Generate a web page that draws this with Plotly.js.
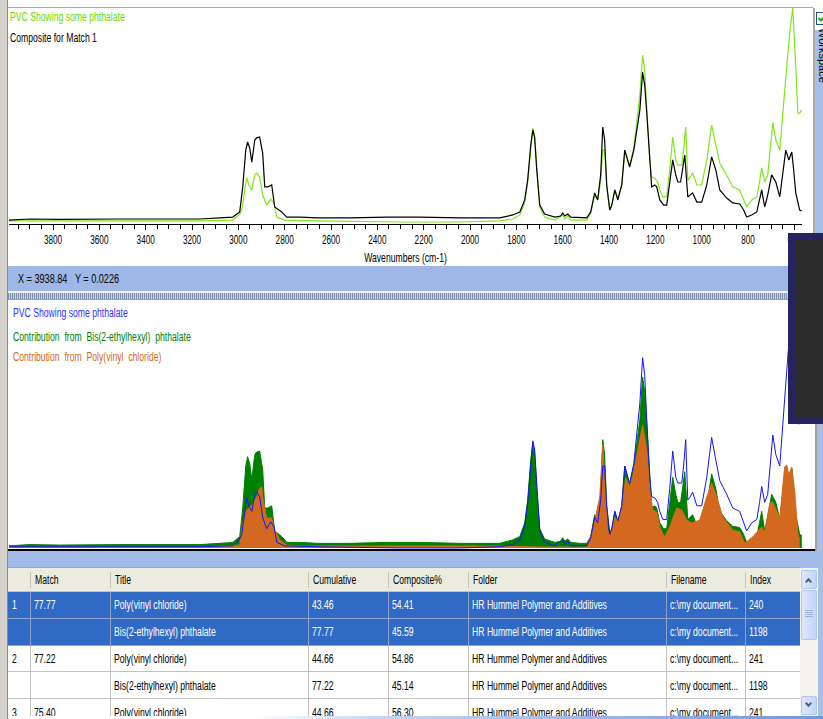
<!DOCTYPE html>
<html>
<head>
<meta charset="utf-8">
<script src="https://cdn.plot.ly/plotly-3.0.1.min.js"></script>
<style>
html,body{margin:0;padding:0;}
body{width:823px;height:719px;overflow:hidden;position:relative;background:#fff;font-family:"Liberation Sans",Arial,sans-serif;}
.b{position:absolute;}
.t{position:absolute;white-space:pre;font-size:12px;line-height:14px;height:14px;transform-origin:0 0;transform:scaleX(0.72);z-index:5;}
#top,#bot{position:absolute;left:0;z-index:2;}
#top{top:0;width:823px;height:265px;}
#bot{top:300px;width:823px;height:252px;}
#tbl{position:absolute;left:0;top:0;width:823px;height:719px;z-index:3;pointer-events:none;}
</style>
</head>
<body>
<!-- window frame -->
<div class="b" style="left:0;top:0;width:7px;height:719px;background:#d6d3ce;"></div>
<div class="b" style="left:7px;top:0;width:1px;height:719px;background:#8a8a8a;"></div>
<div class="b" style="left:8px;top:7px;width:805px;height:1px;background:#a8a8a8;"></div>
<div class="b" style="left:813px;top:8px;width:2px;height:258px;background:#a8a8a8;"></div>
<div class="b" style="left:815px;top:30px;width:8px;height:236px;background:#a7bee9;"></div>
<div class="b" style="left:816px;top:12px;width:11px;height:11px;border:1px solid #1c5180;background:#fff;"></div>
<svg class="b" style="left:817px;top:13px;z-index:4" width="10" height="10"><path d="M1.5 5 L4 7.5 L8.5 2" stroke="#21a121" stroke-width="2" fill="none"/></svg>
<div class="b" style="left:829px;top:28px;font-size:11px;line-height:12px;white-space:pre;transform-origin:0 0;transform:rotate(90deg);z-index:4;">Workspace</div>
<!-- status bar -->
<div class="b" style="left:8px;top:266px;width:815px;height:25px;background:#9fb7e7;"></div>
<div class="b" style="left:8px;top:291px;width:815px;height:2px;background:#eef1f8;"></div>
<div class="b" style="left:8px;top:293px;width:815px;height:6px;background:repeating-linear-gradient(90deg,#7f8fae 0 1px,#c9d2e4 1px 2px);"></div>
<!-- bottom panel frame -->
<div class="b" style="left:8px;top:299px;width:807px;height:1px;background:#a0a0a0;"></div>
<div class="b" style="left:815px;top:299px;width:2px;height:252px;background:#a0a0a0;"></div>
<div class="b" style="left:817px;top:299px;width:6px;height:252px;background:#a7bee9;"></div>
<div class="b" style="left:8px;top:549px;width:807px;height:2px;background:#000;z-index:4;"></div>
<div class="b" style="left:8px;top:551px;width:815px;height:17px;background:#a3bbe8;"></div>
<!-- charts -->
<div id="top"></div>
<div id="bot"></div>
<div id="tbl"></div>
<!-- labels -->
<div class="t" style="left:10px;top:10px;color:#66dd00;">PVC Showing some phthalate</div>
<div class="t" style="left:10px;top:31px;color:#000;">Composite for Match 1</div>
<div class="t" style="left:18px;top:272px;color:#000;transform:scaleX(0.76);">X = 3938.84   Y = 0.0226</div>
<div class="t" style="left:13px;top:306px;color:#3030ff;">PVC Showing some phthalate</div>
<div class="t" style="left:13px;top:330px;color:#008000;">Contribution  from  Bis(2-ethylhexyl)  phthalate</div>
<div class="t" style="left:13px;top:350px;color:#d2691e;">Contribution  from  Poly(vinyl  chloride)</div>
<!-- overlay box -->
<div class="b" style="left:788px;top:233px;width:35px;height:191px;box-sizing:border-box;border-left:7px solid #26245e;border-top:7px solid #26245e;border-bottom:7px solid #26245e;background:#2b2b2b;z-index:9;"></div>

<script>
// ---------- spectra (wavenumber cm-1, absorbance units) ----------
const wnComposite = [3990,3901,3771,3642,3512,3383,3253,3167,3080,3024,
  2994,2981,2968,2960,2951,2942,2929,2921,2908,2895,
  2886,2873,2856,2843,2813,2791,2735,2657,2519,2360,
  2217,2044,1872,1816,1785,1764,1751,1738,1729,1721,
  1712,1699,1678,1634,1609,1600,1591,1578,1565,1527,
  1496,1479,1462,1449,1436,1427,1419,1410,1397,1388,
  1375,1362,1345,1332,1319,1311,1293,1280,1267,1255,
  1246,1237,1224,1216,1203,1194,1181,1164,1151,1138,
  1125,1112,1103,1091,1082,1073,1060,1052,1039,1021,
  1000,978,957,939,922,892,866,836,819,806,
  784,762,750,741,728,715,698,680,663,650,
  637,624,611,603,594,577,568];
const absComposite = [0.009,0.014,0.012,0.014,0.014,0.014,0.014,0.014,0.019,0.023,
  0.047,0.164,0.336,0.374,0.346,0.280,0.383,0.393,0.397,0.322,
  0.164,0.164,0.173,0.070,0.047,0.023,0.023,0.019,0.019,0.023,
  0.023,0.019,0.019,0.033,0.047,0.103,0.196,0.360,0.430,0.393,
  0.243,0.079,0.037,0.023,0.028,0.042,0.028,0.037,0.023,0.019,
  0.019,0.047,0.136,0.103,0.220,0.444,0.383,0.173,0.056,0.079,
  0.150,0.103,0.173,0.336,0.290,0.257,0.336,0.439,0.523,0.701,
  0.640,0.509,0.266,0.164,0.173,0.164,0.103,0.079,0.079,0.173,
  0.290,0.220,0.187,0.187,0.243,0.313,0.117,0.126,0.136,0.093,
  0.093,0.173,0.304,0.243,0.150,0.112,0.089,0.084,0.056,0.023,
  0.033,0.047,0.103,0.150,0.070,0.126,0.220,0.187,0.117,0.220,
  0.336,0.290,0.327,0.243,0.136,0.056,0.051];

const wnSample = [3990,3814,3598,3383,3167,3024,2994,2985,2972,2964,
  2955,2942,2929,2921,2908,2895,2878,2860,2847,2834,
  2800,2662,2303,2044,1872,1816,1785,1764,1751,1738,
  1729,1721,1712,1699,1678,1634,1600,1591,1578,1565,
  1496,1479,1462,1449,1436,1427,1419,1410,1397,1388,
  1375,1362,1345,1332,1319,1311,1293,1280,1267,1255,
  1246,1237,1224,1216,1203,1190,1181,1168,1151,1138,
  1125,1112,1103,1086,1078,1069,1060,1052,1039,1021,
  1000,978,957,939,922,892,866,836,819,806,
  784,762,750,741,728,715,693,680,663,650,
  633,620,607,594,585,577,568];
const absSample = [0.005,0.005,0.002,0.005,0.005,0.009,0.037,0.056,0.150,0.206,
  0.173,0.150,0.220,0.229,0.210,0.126,0.079,0.107,0.089,0.023,
  0.009,0.005,0.000,0.000,0.005,0.014,0.033,0.089,0.187,0.355,
  0.439,0.402,0.243,0.070,0.023,0.009,0.033,0.014,0.028,0.009,
  0.009,0.042,0.126,0.103,0.196,0.336,0.336,0.173,0.056,0.079,
  0.150,0.112,0.173,0.336,0.290,0.266,0.346,0.477,0.593,0.780,
  0.710,0.523,0.290,0.210,0.206,0.187,0.150,0.117,0.117,0.243,
  0.397,0.290,0.266,0.266,0.336,0.444,0.196,0.206,0.229,0.173,
  0.173,0.290,0.453,0.360,0.276,0.220,0.164,0.150,0.103,0.070,
  0.103,0.117,0.187,0.252,0.187,0.220,0.463,0.383,0.336,0.523,
  0.724,0.883,1.000,0.724,0.509,0.509,0.523];

const wnPVC = [3990,3167,2994,2981,2964,2942,2921,2908,2899,2895,
  2878,2856,2843,2821,2791,2735,1872,1699,1496,1470,
  1440,1432,1427,1414,1406,1388,1375,1362,1345,1328,
  1311,1298,1276,1255,1237,1224,1211,1194,1181,1160,
  1138,1108,1086,1065,1043,1008,978,957,935,909,
  866,836,814,780,741,728,706,693,663,642,
  633,624,611,598,585,577];
const absPVC = [0.004,0.004,0.012,0.102,0.156,0.176,0.209,0.246,0.250,0.209,
  0.123,0.123,0.074,0.033,0.012,0.008,0.008,0.004,0.004,0.074,
  0.209,0.361,0.422,0.197,0.066,0.074,0.127,0.107,0.156,0.287,
  0.250,0.291,0.402,0.504,0.402,0.238,0.156,0.148,0.086,0.045,
  0.086,0.164,0.156,0.115,0.102,0.115,0.209,0.266,0.209,0.127,
  0.074,0.066,0.020,0.045,0.086,0.066,0.184,0.189,0.120,0.332,
  0.340,0.299,0.332,0.225,0.061,0.033];

// ---------- match table ----------
const colNames = ["", "Match", "Title", "Cumulative", "Composite%", "Folder", "Filename", "Index"];
const rowNum = ["1", "", "2", "", "3"];
const matchScore = ["77.77", "", "77.22", "", "75.40"];
const titles = ["Poly(vinyl chloride)", "Bis(2-ethylhexyl) phthalate", "Poly(vinyl chloride)", "Bis(2-ethylhexyl) phthalate", "Poly(vinyl chloride)"];
const cumulative = ["43.46", "77.77", "44.66", "77.22", "44.66"];
const compositePct = ["54.41", "45.59", "54.86", "45.14", "56.30"];
const folders = ["HR Hummel Polymer and Additives", "HR Hummel Polymer and Additives", "HR Hummel Polymer and Additives", "HR Hummel Polymer and Additives", "HR Hummel Polymer and Additives"];
const filenames = ["c:\\my document...", "c:\\my document...", "c:\\my document...", "c:\\my document...", "c:\\my document..."];
const indexes = ["240", "1198", "241", "1198", "241"];
const selectedRows = [0, 1];

const FONT = 'Liberation Sans, Arial, sans-serif';
const xr = [3990, 567];

const topTraces = [
  {x: wnSample, y: absSample, type: 'scatter', mode: 'lines', line: {color: '#7ee81a', width: 1.2}, hoverinfo: 'skip'},
  {x: wnComposite, y: absComposite, type: 'scatter', mode: 'lines', line: {color: '#000000', width: 1.2}, hoverinfo: 'skip'}
];
const topLayout = {
  width: 823, height: 265, margin: {l: 9, r: 21, t: 8, b: 41},
  paper_bgcolor: 'rgba(0,0,0,0)', plot_bgcolor: 'rgba(0,0,0,0)', showlegend: false,
  xaxis: {range: xr, autorange: false, automargin: false, showline: true, linecolor: '#000', linewidth: 1,
    ticks: 'outside', ticklen: 5, tickwidth: 1, tickcolor: '#000', tick0: 0, dtick: 200,
    showgrid: false, zeroline: false, tickfont: {family: FONT, size: 12, color: '#000'},
    minor: {tick0: 0, dtick: 50, ticks: 'outside', ticklen: 4, tickcolor: '#000', tickwidth: 1, showgrid: false},
    title: {text: 'Wavenumbers (cm-1)', font: {family: FONT, size: 12, color: '#000'}, standoff: 7}},
  yaxis: {range: [-0.00935, 1.0], autorange: false, visible: false}
};

const botTraces = [
  {x: wnComposite, y: absComposite, type: 'scatter', mode: 'lines', fill: 'tozeroy', fillcolor: '#008000', line: {color: '#008000', width: 1}, hoverinfo: 'skip'},
  {x: wnPVC, y: absPVC, type: 'scatter', mode: 'lines', fill: 'tozeroy', fillcolor: '#d2691e', line: {color: '#d2691e', width: 1}, hoverinfo: 'skip'},
  {x: wnSample, y: absSample, type: 'scatter', mode: 'lines', line: {color: '#1414f5', width: 1}, hoverinfo: 'skip'}
];
const botLayout = {
  width: 823, height: 252, margin: {l: 9, r: 21, t: 2, b: 2},
  paper_bgcolor: 'rgba(0,0,0,0)', plot_bgcolor: 'rgba(0,0,0,0)', showlegend: false,
  xaxis: {range: xr, autorange: false, visible: false},
  yaxis: {range: [-0.0082, 1.008], autorange: false, visible: false}
};

function squash(gd, sel, f) {
  gd.querySelectorAll(sel).forEach(function (t) {
    const w = t.getComputedTextLength();
    if (w > 0) { t.setAttribute('textLength', (w * f).toFixed(1)); t.setAttribute('lengthAdjust', 'spacingAndGlyphs'); }
  });
}

Plotly.newPlot('top', topTraces, topLayout, {staticPlot: true, displayModeBar: false}).then(function (gd) {
  squash(gd, '.xtick text', 0.68);
  squash(gd, 'text.xtitle', 0.72);
});
Plotly.newPlot('bot', botTraces, botLayout, {staticPlot: true, displayModeBar: false});

// ---------- table drawing ----------
(function () {
  const host = document.getElementById('tbl');
  const edges = [8, 30, 110, 308, 388, 468, 666, 745, 800];
  const headTop = 568, headH = 24, rowH = 26.8, clipBottom = 716;
  function box(l, t, w, h, css) {
    const d = document.createElement('div');
    d.style.cssText = 'position:absolute;left:' + l + 'px;top:' + t + 'px;width:' + w + 'px;height:' + h + 'px;' + (css || '');
    host.appendChild(d); return d;
  }
  function txt(s, l, cy, color, f) {
    const d = document.createElement('div');
    d.className = 't';
    d.textContent = s;
    d.style.left = l + 'px'; d.style.top = (cy - 7) + 'px'; d.style.color = color;
    if (f) d.style.transform = 'scaleX(' + f + ')';
    clip.appendChild(d);
  }
  box(8, headTop - 1, 792, 1, 'background:#a5a5a5;');
  box(8, headTop, 792, headH, 'background:#ecebdf;');
  box(8, headTop + headH - 1, 792, 1, 'background:#c9c6b6;');
  const clip = box(0, 0, 823, clipBottom, 'overflow:hidden;');
  const cols = [rowNum, matchScore, titles, cumulative, compositePct, folders, filenames, indexes];
  for (let c = 1; c < edges.length - 1; c++) box(edges[c], headTop + 4, 1, headH - 8, 'background:#c7c4b4;');
  for (let c = 0; c < colNames.length; c++) if (colNames[c]) txt(colNames[c], edges[c] + 5, headTop + headH / 2, '#000');
  for (let r = 0; r < titles.length; r++) {
    const top = headTop + headH + r * rowH;
    const sel = selectedRows.indexOf(r) >= 0;
    const d = document.createElement('div');
    d.style.cssText = 'position:absolute;left:8px;top:' + top + 'px;width:792px;height:' + rowH + 'px;background:' + (sel ? '#316ac5' : '#fff') + ';';
    clip.appendChild(d);
    const lc = sel ? '#8fa3cf' : '#c2c2c2';
    const hl = document.createElement('div');
    hl.style.cssText = 'position:absolute;left:8px;top:' + (top + rowH - 1) + 'px;width:792px;height:1px;background:' + lc + ';';
    clip.appendChild(hl);
    for (let c = 1; c < edges.length - 1; c++) {
      const v = document.createElement('div');
      v.style.cssText = 'position:absolute;left:' + edges[c] + 'px;top:' + top + 'px;width:1px;height:' + rowH + 'px;background:' + lc + ';';
      clip.appendChild(v);
    }
    for (let c = 0; c < cols.length; c++) {
      if (cols[c][r]) txt(cols[c][r], edges[c] + 4, top + rowH / 2, sel ? '#fff' : '#000');
    }
  }
  // scrollbar
  box(800, headTop, 18, clipBottom - headTop, 'background:#f4f3ee;');
  box(818, headTop, 5, 719 - headTop, 'background:#a7bee9;');
  const btn = 'background:linear-gradient(90deg,#dfe8fb,#c3d4f6);border:1px solid #b3c6ee;border-radius:2px;box-sizing:border-box;';
  box(801, headTop + 2, 16, 19, btn);
  box(801, headTop + 22, 16, 50, btn);
  box(801, 696, 16, 19, btn);
  box(806, headTop + 11, 5, 5, 'border-left:2px solid #4d6185;border-top:2px solid #4d6185;transform:rotate(45deg);box-sizing:border-box;');
  box(806, 701, 5, 5, 'border-right:2px solid #4d6185;border-bottom:2px solid #4d6185;transform:rotate(45deg);box-sizing:border-box;');
  for (let k = 0; k < 4; k++) box(805, headTop + 42 + k * 2, 8, 1, 'background:#9fb3dd;');
  // bottom strip
  box(8, clipBottom, 815, 719 - clipBottom, 'background:linear-gradient(90deg,#ffffff 0%,#ffffff 30%,#c6d6f4 45%,#6f98e2 100%);');
})();
</script>
</body>
</html>
